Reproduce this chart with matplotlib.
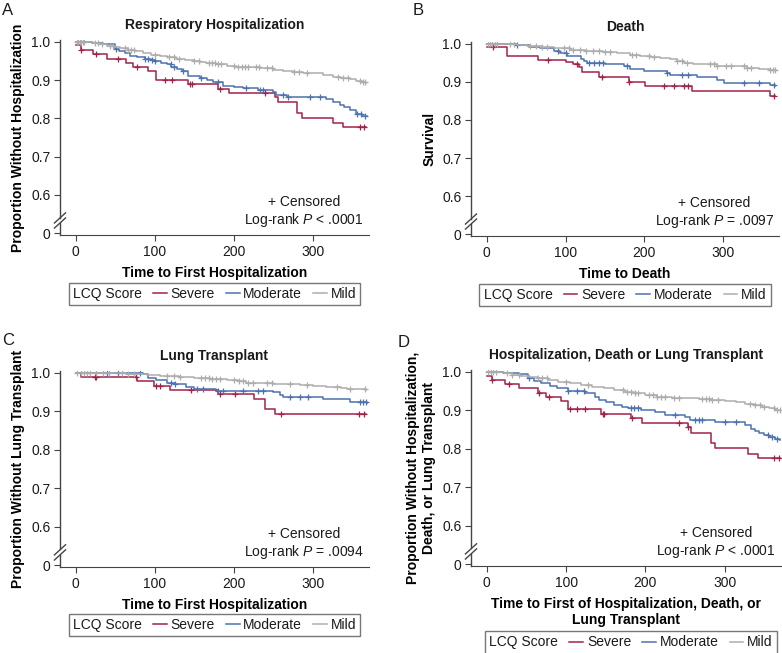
import numpy as np
import matplotlib
matplotlib.use('Agg')
import matplotlib.pyplot as plt
from matplotlib.lines import Line2D

plt.rcParams['font.family'] = ['Liberation Sans', 'DejaVu Sans']
plt.rcParams['mathtext.fontset'] = 'custom'
plt.rcParams['mathtext.it'] = 'Liberation Sans:italic'
plt.rcParams['mathtext.rm'] = 'Liberation Sans'
plt.rcParams['font.size'] = 10
plt.rcParams['text.color'] = '#1a1a1a'

grupos = ['Severe', 'Moderate', 'Mild']
colores = ['#A3224A', '#4D72AE', '#ADADAD']

# --- A: hospitalizacion respiratoria ---
a_sev_t = [0, 6, 22, 39, 63, 73, 92, 102, 142, 180, 194, 252, 256, 280, 286, 326, 338, 367]
a_sev_s = [0.991, 0.979, 0.969, 0.955, 0.944, 0.934, 0.924, 0.901, 0.889, 0.878, 0.866, 0.856, 0.842, 0.813, 0.801, 0.789, 0.777, 0.777]
a_sev_c = [6, 26, 54, 78, 113, 122, 145, 147, 182, 239, 360, 365]
a_mod_t = [0, 20, 35, 49, 55, 62, 68, 78, 87, 95, 100, 108, 115, 121, 128, 134, 142, 150, 157, 166, 174, 186, 200, 212, 230, 250, 254, 267, 317, 326, 334, 340, 347, 355, 362, 368]
a_mod_s = [1.0, 0.997, 0.994, 0.981, 0.976, 0.970, 0.964, 0.960, 0.955, 0.952, 0.949, 0.945, 0.941, 0.935, 0.930, 0.924, 0.912, 0.910, 0.906, 0.901, 0.896, 0.886, 0.883, 0.879, 0.875, 0.868, 0.861, 0.856, 0.852, 0.844, 0.834, 0.829, 0.822, 0.812, 0.806, 0.806]
a_mod_c = [51, 88, 92, 96, 100, 120, 124, 136, 159, 180, 216, 233, 237, 262, 268, 296, 309, 356, 361, 366]
a_mild_t = [0, 10, 22, 30, 39, 48, 56, 66, 75, 85, 95, 106, 116, 127, 138, 149, 157, 165, 178, 191, 203, 216, 233, 250, 262, 275, 287, 300, 313, 326, 336, 347, 355, 362, 367]
a_mild_s = [1.0, 0.999, 0.997, 0.994, 0.990, 0.987, 0.983, 0.979, 0.975, 0.970, 0.967, 0.964, 0.960, 0.955, 0.953, 0.950, 0.947, 0.944, 0.941, 0.937, 0.935, 0.934, 0.931, 0.927, 0.924, 0.922, 0.920, 0.918, 0.914, 0.909, 0.906, 0.903, 0.899, 0.896, 0.892]
a_mild_c = [1, 3, 5, 7, 9, 11, 24, 28, 33, 43, 47, 62, 66, 70, 74, 100, 118, 124, 130, 150, 156, 168, 172, 176, 180, 184, 200, 205, 210, 214, 218, 228, 232, 242, 248, 276, 282, 292, 332, 338, 344, 360, 363, 366]

# --- B: muerte ---
b_sev_t = [0, 26, 65, 100, 109, 117, 121, 143, 181, 201, 260, 360, 366]
b_sev_s = [0.991, 0.967, 0.957, 0.952, 0.946, 0.939, 0.925, 0.912, 0.900, 0.889, 0.877, 0.863, 0.863]
b_sev_c = [8, 78, 114, 146, 181, 225, 238, 250, 256, 364]
b_mod_t = [0, 38, 53, 68, 85, 93, 102, 119, 123, 127, 150, 174, 182, 199, 229, 233, 267, 292, 301, 360, 366]
b_mod_s = [1.0, 0.998, 0.992, 0.988, 0.981, 0.976, 0.968, 0.961, 0.956, 0.950, 0.947, 0.943, 0.935, 0.928, 0.923, 0.918, 0.912, 0.904, 0.898, 0.891, 0.888]
b_mod_c = [38, 90, 100, 130, 136, 142, 148, 178, 229, 248, 256, 326, 345, 364]
b_mild_t = [0, 38, 51, 70, 85, 106, 125, 148, 165, 182, 195, 208, 220, 233, 241, 250, 262, 275, 292, 309, 330, 345, 360, 367]
b_mild_s = [1.0, 0.998, 0.994, 0.991, 0.988, 0.984, 0.981, 0.979, 0.975, 0.970, 0.968, 0.965, 0.962, 0.959, 0.955, 0.951, 0.948, 0.946, 0.943, 0.941, 0.937, 0.934, 0.932, 0.931]
b_mild_c = [1, 4, 7, 10, 13, 30, 34, 55, 62, 70, 76, 98, 104, 110, 118, 126, 135, 143, 150, 156, 184, 190, 206, 212, 242, 248, 254, 284, 288, 292, 304, 310, 326, 330, 335, 360, 363, 366]

# --- C: trasplante pulmonar ---
c_sev_t = [0, 7, 78, 99, 119, 180, 226, 240, 252, 367]
c_sev_s = [1.0, 0.990, 0.978, 0.966, 0.956, 0.944, 0.931, 0.907, 0.894, 0.894]
c_sev_c = [24, 26, 76, 102, 106, 146, 182, 202, 260, 359, 365]
c_mod_t = [0, 55, 85, 92, 102, 115, 125, 140, 149, 178, 250, 258, 262, 313, 347, 368]
c_mod_s = [1.0, 0.999, 0.996, 0.988, 0.981, 0.975, 0.971, 0.964, 0.957, 0.953, 0.950, 0.942, 0.936, 0.931, 0.925, 0.922]
c_mod_c = [39, 54, 81, 120, 126, 153, 161, 180, 186, 212, 231, 237, 271, 284, 294, 360, 364, 367]
c_mild_t = [0, 64, 90, 106, 130, 149, 170, 191, 205, 216, 235, 250, 270, 284, 300, 317, 335, 343, 360, 367]
c_mild_s = [1.0, 0.998, 0.995, 0.992, 0.990, 0.987, 0.984, 0.981, 0.978, 0.975, 0.973, 0.972, 0.970, 0.968, 0.966, 0.963, 0.961, 0.959, 0.957, 0.955]
c_mild_c = [2, 6, 10, 14, 18, 26, 34, 42, 58, 66, 74, 115, 124, 132, 158, 163, 168, 173, 178, 182, 200, 206, 212, 218, 224, 242, 248, 271, 292, 330, 347, 366]

# --- D: hospitalizacion, muerte o trasplante ---
d_sev_t = [0, 6, 23, 40, 64, 75, 93, 102, 144, 182, 196, 254, 258, 283, 288, 330, 342, 370]
d_sev_s = [0.990, 0.978, 0.968, 0.957, 0.946, 0.934, 0.925, 0.903, 0.891, 0.879, 0.866, 0.857, 0.842, 0.814, 0.801, 0.786, 0.775, 0.775]
d_sev_c = [7, 28, 66, 78, 105, 114, 124, 146, 148, 183, 242, 254, 362, 368]
d_mod_t = [0, 20, 40, 52, 60, 68, 80, 89, 102, 124, 136, 142, 150, 161, 170, 178, 195, 212, 225, 250, 256, 288, 326, 333, 338, 343, 350, 356, 364, 370]
d_mod_s = [1.0, 0.997, 0.994, 0.983, 0.977, 0.970, 0.963, 0.957, 0.950, 0.944, 0.935, 0.928, 0.922, 0.915, 0.910, 0.906, 0.900, 0.896, 0.889, 0.883, 0.876, 0.870, 0.863, 0.852, 0.846, 0.840, 0.835, 0.831, 0.825, 0.822]
d_mod_c = [53, 102, 114, 123, 182, 186, 191, 237, 263, 267, 271, 301, 314, 354, 360, 366]
d_mild_t = [0, 10, 21, 32, 42, 53, 64, 77, 90, 105, 119, 133, 148, 160, 174, 186, 199, 215, 233, 250, 267, 284, 301, 314, 326, 337, 347, 356, 364, 371]
d_mild_s = [1.0, 0.999, 0.996, 0.993, 0.990, 0.987, 0.983, 0.979, 0.974, 0.971, 0.967, 0.962, 0.957, 0.953, 0.948, 0.944, 0.939, 0.936, 0.933, 0.931, 0.929, 0.927, 0.924, 0.921, 0.917, 0.913, 0.909, 0.906, 0.902, 0.899]
d_mild_c = [2, 5, 8, 11, 25, 32, 40, 64, 70, 76, 100, 127, 172, 177, 182, 187, 191, 205, 210, 215, 220, 225, 236, 242, 272, 276, 280, 284, 292, 332, 338, 344, 350, 362, 366, 370]

y_ticks = [0.5, 0.6, 0.7, 0.8, 0.9, 1.0]
y_tick_labels = ['0', '0.6', '0.7', '0.8', '0.9', '1.0']
x_ticks = [0, 100, 200, 300]


def dibujar_panel(ax, curvas, titulo, ylab, xlab, texto, ley_x, ley_y):
    for (t, s, c), color in zip(curvas, colores):
        t = np.array(t)
        s = np.array(s)
        ax.step(t, s, where='post', color=color, lw=1.1)
        idx = np.searchsorted(t, c, side='right') - 1
        ax.plot(c, s[idx], '+', color=color, ms=5, mew=0.9, ls='none')

    ax.set_xlim(-20, 371)
    ax.set_ylim(0.495, 1.005)
    ax.set_yticks(y_ticks)
    ax.set_yticklabels(y_tick_labels)
    ax.set_xticks(x_ticks)
    ax.tick_params(length=4, color='#444', labelsize=10, labelcolor='#1a1a1a', pad=3)
    for lado in ['top', 'right', 'left']:
        ax.spines[lado].set_visible(False)
    ax.spines['bottom'].set_color('#444')

    # eje y cortado
    yb = (0.533 - 0.495) / 0.51
    kw = dict(transform=ax.transAxes, color='#444', lw=1.0, clip_on=False)
    ax.plot([0, 0], [yb + 0.015, 1], **kw)
    ax.plot([0, 0], [0, yb - 0.015], **kw)
    for d in [-0.013, 0.013]:
        ax.plot([-0.018, 0.018], [yb + d - 0.026, yb + d + 0.026], **kw)

    ax.set_title(titulo, fontweight='bold', fontsize=10, pad=8)
    ax.set_ylabel(ylab, fontweight='bold', fontsize=10, labelpad=4)
    ax.set_xlabel(xlab, fontweight='bold', fontsize=10, labelpad=5)
    ax.text(289, 0.555, texto, ha='center', va='center', multialignment='center', fontsize=10)

    handles = [Line2D([], [], color=c, lw=1.1) for c in colores]
    leg = ax.legend(handles, grupos, title='LCQ Score', ncol=3, loc='center',
                    bbox_to_anchor=(ley_x, ley_y), frameon=True, fancybox=False,
                    edgecolor='#555', handlelength=1.0, handletextpad=0.25,
                    columnspacing=0.8, borderpad=0.3, borderaxespad=0, fontsize=10)
    leg.get_frame().set_linewidth(1.0)
    # titulo de la leyenda a la izquierda
    caja_titulo = leg._legend_title_box
    caja_handles = leg._legend_handle_box
    leg._legend_box._children = [caja_handles]
    caja_handles._children = [caja_titulo] + list(caja_handles._children)


fig = plt.figure(figsize=(7.82, 6.53), dpi=100)
ax_a = fig.add_axes([0.0767, 0.6401, 0.3951, 0.2986])
ax_b = fig.add_axes([0.6023, 0.6386, 0.3939, 0.2971])
ax_c = fig.add_axes([0.0767, 0.1317, 0.3951, 0.3002])
ax_d = fig.add_axes([0.6023, 0.1332, 0.3964, 0.3002])

dibujar_panel(ax_a, [(a_sev_t, a_sev_s, a_sev_c), (a_mod_t, a_mod_s, a_mod_c), (a_mild_t, a_mild_s, a_mild_c)],
              'Respiratory Hospitalization', 'Proportion Without Hospitalization',
              'Time to First Hospitalization', '+ Censored\nLog-rank $P$ < .0001', 0.5, -0.303)
dibujar_panel(ax_b, [(b_sev_t, b_sev_s, b_sev_c), (b_mod_t, b_mod_s, b_mod_c), (b_mild_t, b_mild_s, b_mild_c)],
              'Death', 'Survival', 'Time to Death', '+ Censored\nLog-rank $P$ = .0097', 0.5, -0.303)
dibujar_panel(ax_c, [(c_sev_t, c_sev_s, c_sev_c), (c_mod_t, c_mod_s, c_mod_c), (c_mild_t, c_mild_s, c_mild_c)],
              'Lung Transplant', 'Proportion Without Lung Transplant',
              'Time to First Hospitalization', '+ Censored\nLog-rank $P$ = .0094', 0.5, -0.295)
dibujar_panel(ax_d, [(d_sev_t, d_sev_s, d_sev_c), (d_mod_t, d_mod_s, d_mod_c), (d_mild_t, d_mild_s, d_mild_c)],
              'Hospitalization, Death or Lung Transplant',
              'Proportion Without Hospitalization,\nDeath, or Lung Transplant',
              'Time to First of Hospitalization, Death, or\nLung Transplant',
              '+ Censored\nLog-rank $P$ < .0001', 0.516, -0.39)

fig.text(0.003, 1 - 3 / 653, 'A', va='top', ha='left', fontsize=12)
fig.text(0.528, 1 - 3 / 653, 'B', va='top', ha='left', fontsize=12)
fig.text(0.003, 1 - 333 / 653, 'C', va='top', ha='left', fontsize=12)
fig.text(0.509, 1 - 335 / 653, 'D', va='top', ha='left', fontsize=12)

fig.savefig('out.png', dpi=100)
